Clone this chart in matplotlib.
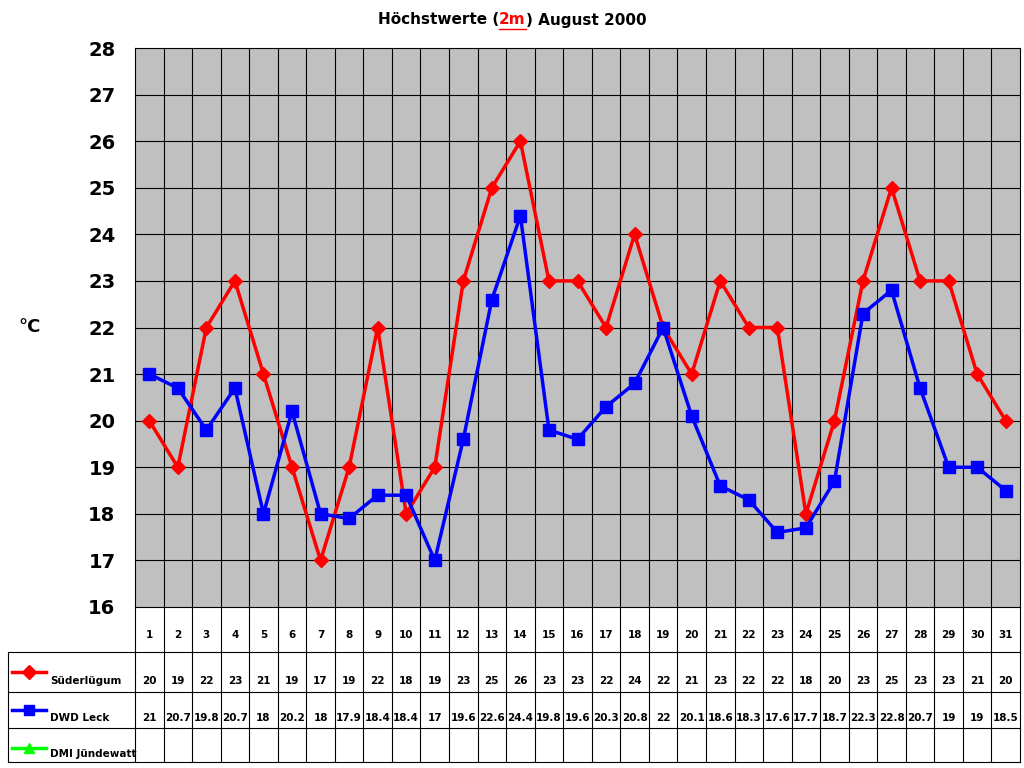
import numpy as np
import matplotlib.pyplot as plt

days = list(range(1, 32))
suederluegum = [20, 19, 22, 23, 21, 19, 17, 19, 22, 18, 19, 23, 25, 26, 23, 23,
                22, 24, 22, 21, 23, 22, 22, 18, 20, 23, 25, 23, 23, 21, 20]
dwd_leck = [21, 20.7, 19.8, 20.7, 18, 20.2, 18, 17.9, 18.4, 18.4, 17, 19.6, 22.6,
            24.4, 19.8, 19.6, 20.3, 20.8, 22, 20.1, 18.6, 18.3, 17.6, 17.7, 18.7,
            22.3, 22.8, 20.7, 19, 19, 18.5]
series_names = ['Süderlügum', 'DWD Leck', 'DMI Jündewatt']

W, H = 1024, 768
fig = plt.figure(figsize=(W / 100, H / 100), dpi=100)
fig.patch.set_facecolor('white')

# plot area in pixels
x0, x1, y0, y1 = 135, 1020, 48, 607
ax = fig.add_axes([x0 / W, 1 - y1 / H, (x1 - x0) / W, (y1 - y0) / H])
ax.set_facecolor('#c0c0c0')
ax.set_xlim(0.5, 31.5)
ax.set_ylim(16, 28)
for v in range(17, 28):
    ax.axhline(v, color='black', lw=0.8, zorder=1)
for b in np.arange(1.5, 31.5, 1):
    ax.axvline(b, color='black', lw=0.8, zorder=1)
ax.plot(days, suederluegum, color='#ff0000', lw=2.5, marker='D', ms=7, zorder=3)
ax.plot(days, dwd_leck, color='#0000ff', lw=2.5, marker='s', ms=8, zorder=3)
ax.set_xticks([])
ax.set_yticks(range(16, 29))
ax.tick_params(axis='y', length=0, pad=14, labelsize=14)
for t in ax.get_yticklabels():
    t.set_fontweight('bold')
for s in ax.spines.values():
    s.set_color('black')
    s.set_linewidth(0.8)

fig.text(18 / W, 1 - 327 / H, '°C', fontsize=13, fontweight='bold', ha='left', va='center')

# table
tab = fig.add_axes([0, 0, 1, 1], facecolor='none')
tab.set_xlim(0, W)
tab.set_ylim(H, 0)
tab.axis('off')
cw = (x1 - x0) / 31
rows = [607, 652, 692, 728, 762]
for i in range(32):
    tab.plot([x0 + i * cw] * 2, [607, 762], color='black', lw=0.8)
for r in rows[1:]:
    tab.plot([8, x1], [r, r], color='black', lw=0.8)
tab.plot([8, 8], [652, 762], color='black', lw=0.8)

def fmt(v):
    return str(int(v)) if float(v).is_integer() else str(v)

for i, d in enumerate(days):
    cx = x0 + (i + 0.5) * cw
    tab.text(cx, 635, str(d), ha='center', va='center', fontsize=7.5, fontweight='bold')
    tab.text(cx, 681, fmt(suederluegum[i]), ha='center', va='center', fontsize=7.5, fontweight='bold')
    tab.text(cx, 718, fmt(dwd_leck[i]), ha='center', va='center', fontsize=7.5, fontweight='bold')

colors = ['#ff0000', '#0000ff', '#00ff00']
markers = ['D', 's', '^']
for k, (name, c, m) in enumerate(zip(series_names, colors, markers)):
    ym = [672, 710, 748][k]
    tab.plot([12, 46], [ym, ym], color=c, lw=2.5)
    tab.plot([29], [ym], color=c, marker=m, ms=7)
    tab.text(50, [681, 718, 754][k], name, ha='left', va='center', fontsize=7.5, fontweight='bold')

# title with red underlined "2m"
fig.canvas.draw()
r = fig.canvas.get_renderer()
parts = [('Höchstwerte (', 'black'), ('2m', 'red'), (') August 2000', 'black')]
widths = []
for s, c in parts:
    t = fig.text(0, 0, s, fontsize=11, fontweight='bold')
    widths.append(t.get_window_extent(r).width)
    t.remove()
xs = W / 2 - sum(widths) / 2
yt = 1 - 20 / H
for (s, c), w in zip(parts, widths):
    fig.text(xs / W, yt, s, fontsize=11, fontweight='bold', color=c, va='center')
    if c == 'red':
        tab.plot([xs, xs + w], [29, 29], color='red', lw=1)
    xs += w

fig.savefig('out.png', dpi=100)
